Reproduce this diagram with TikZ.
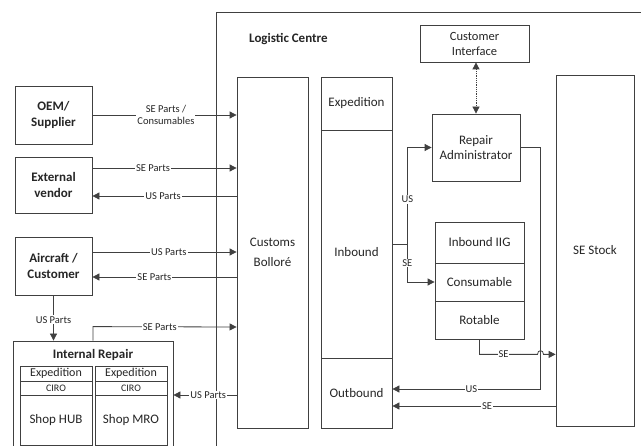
\documentclass[tikz,border=0pt]{standalone}
\usepackage{fontspec}
\setmainfont{Carlito}
\usetikzlibrary{arrows.meta,calc}
\begin{document}
\begin{tikzpicture}[x=1pt,y=-1pt,
  ln/.style={draw=black!75, line width=0.8pt},
  box/.style={ln, rectangle, inner sep=0pt, align=center, font=\fontsize{13}{15.5}\selectfont, text=black!85},
  bbox/.style={box, font=\fontsize{13}{16}\selectfont\bfseries},
  ttl/.style={inner sep=0pt, font=\fontsize{13}{16}\selectfont\bfseries, text=black!85},
  arr/.style={ln, -{Triangle[length=7pt,width=7pt]}},
  lbl/.style={fill=white, inner sep=1pt, font=\fontsize{10.5}{11.5}\selectfont, text=black!85, align=center},
]
\clip (0,0) rectangle (641,446);
\fill[white] (0,0) rectangle (641,446);

% Logistic centre container
\node[ln, rectangle, inner sep=0pt, minimum width=444pt, minimum height=448pt] (lc) at (438,236) {};
\node[ttl, anchor=west] (lct) at (249,39) {Logistic Centre};

% left side
\node[bbox, minimum width=77pt, minimum height=58pt] (oem) at (53.5,115) {OEM/\\Supplier};
\node[bbox, minimum width=77pt, minimum height=56pt] (ext) at (53.5,185) {External\\vendor};
\node[bbox, minimum width=77pt, minimum height=58pt] (air) at (53.5,266) {Aircraft /\\Customer};

\node[box, minimum width=160pt, minimum height=129pt] (ir) at (93,405.5) {};
\node[ttl] (irt) at (93,355) {Internal Repair};
\node[box, minimum width=72pt, minimum height=15pt, font=\fontsize{12}{14}\selectfont] (hubE) at (56,373.5) {Expedition};
\node[box, minimum width=72pt, minimum height=14pt, font=\fontsize{10}{12}\selectfont] (hubC) at (56,388) {CIRO};
\node[box, minimum width=72pt, minimum height=50pt] (hubS) at (56,420) {Shop HUB};
\node[box, minimum width=72pt, minimum height=15pt, font=\fontsize{12}{14}\selectfont] (mroE) at (131,373.5) {Expedition};
\node[box, minimum width=72pt, minimum height=14pt, font=\fontsize{10}{12}\selectfont] (mroC) at (131,388) {CIRO};
\node[box, minimum width=72pt, minimum height=50pt] (mroS) at (131,420) {Shop MRO};

% logistic centre content
\node[box, minimum width=71pt, minimum height=351pt, font=\fontsize{13}{20}\selectfont] (cus) at (272.5,252.5) {Customs\\Bolloré};
\node[box, minimum width=71pt, minimum height=53pt] (expd) at (356.5,103.5) {Expedition};
\node[box, minimum width=71pt, minimum height=228pt] (inb) at (356.5,244) {};
\node[inner sep=0pt, font=\fontsize{13}{15.5}\selectfont, text=black!85] (inbt) at (356.5,252) {Inbound};
\node[box, minimum width=71pt, minimum height=70pt] (outb) at (356.5,393) {Outbound};
\node[box, minimum width=109pt, minimum height=37pt, font=\fontsize{12.5}{15}\selectfont] (ci) at (474.5,43.5) {Customer\\Interface};
\node[box, minimum width=88pt, minimum height=67pt] (ra) at (476,147.5) {Repair\\Administrator};
\node[box, minimum width=89pt, minimum height=41pt] (iig) at (479.5,242.5) {Inbound IIG};
\node[box, minimum width=89pt, minimum height=38pt] (cons) at (479.5,282) {Consumable};
\node[box, minimum width=89pt, minimum height=38pt] (rot) at (479.5,320) {Rotable};
\node[box, minimum width=78pt, minimum height=351pt] (stock) at (595,250.5) {SE Stock};

% connectors left
\draw[arr] (oem.east) -- (cus.west |- oem.east) node[lbl,pos=0.51] {SE Parts /\\Consumables};
\draw[arr] (ext.east |- 0,168) -- (cus.west |- 0,168) node[lbl,pos=0.42] {SE Parts};
\draw[arr] (cus.west |- 0,196) -- (ext.east |- 0,196) node[lbl,pos=0.51] {US Parts};
\draw[arr] (air.east |- 0,252) -- (cus.west |- 0,252) node[lbl,pos=0.53] {US Parts};
\draw[arr] (cus.west |- 0,277) -- (air.east |- 0,277) node[lbl,pos=0.57] {SE Parts};
\draw[arr] (air.south) -- (ir.north -| air.south) node[lbl,pos=0.54] {US Parts};
\draw[arr] (ir.north) -- ++(0,-14) -- (cus.west |- 0,327) node[lbl,pos=0.465] {SE Parts};
\draw[arr] (cus.west |- 0,395) -- (ir.east |- 0,395) node[lbl,pos=0.45] {US Parts};

% connectors right
\draw[arr] (inb.east) -- ++(15,0) |- (ra.west) node[lbl,pos=0.23] {US};
\draw[arr] (inb.east) -- ++(15,0) |- (cons.west) node[lbl,pos=0.25] {SE};
\draw[ln, densely dotted, {Triangle[length=7pt,width=7pt]}-{Triangle[length=7pt,width=7pt]}] (ra.north |- ci.south) -- (ra.north);
\draw[arr] (ra.east) -- ++(20,0) |- (outb.east |- 0,389) node[lbl,pos=0.733] {US};
\path (rot.south) ++(58,15) coordinate (h1) ++(6,0) coordinate (h2);
\draw[arr] (rot.south) |- (h1) node[lbl,pos=0.707] {SE} .. controls ($(h1)+(0,-5)$) and ($(h2)+(0,-5)$) .. (h2) -- (stock.west |- h2);
\draw[arr] (stock.west |- 0,406) -- (outb.east |- 0,406) node[lbl,pos=0.42] {SE};
\end{tikzpicture}
\end{document}
